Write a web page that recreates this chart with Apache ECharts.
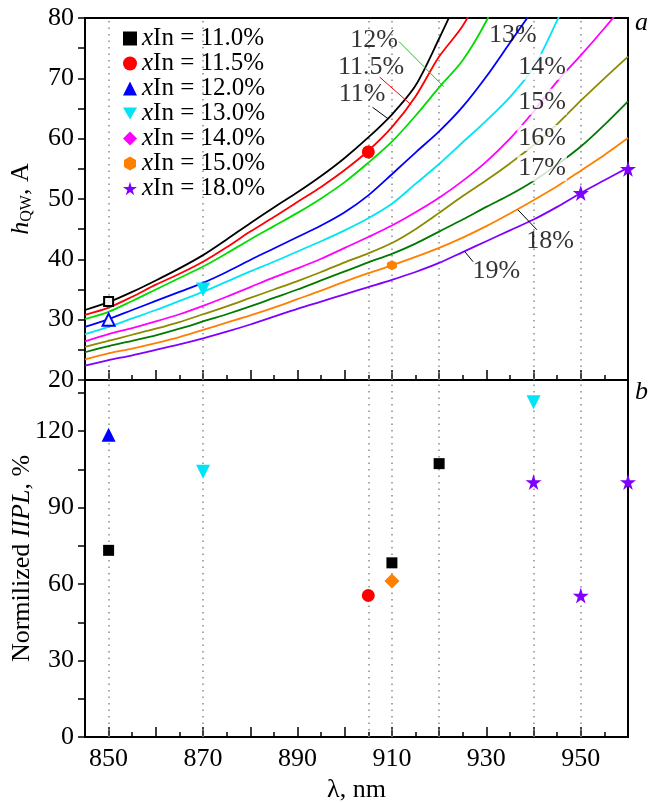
<!DOCTYPE html>
<html>
<head>
<meta charset="utf-8">
<script src="https://cdn.jsdelivr.net/npm/echarts@6/dist/echarts.min.js"></script>
<style>
html, body { margin: 0; padding: 0; background: #fff; }
#container { width: 653px; height: 803px; }
</style>
</head>
<body>
<div id="container"></div>
<script>
// wavelength grid of the computed curves, nm
let lambda = [845, 850, 855, 860, 865, 870, 875, 880, 885, 890, 895, 900,
              905, 910, 915, 920, 925, 930, 935, 940, 945, 950, 955, 960];

// h_QW (A) for each In content
let h11   = [31.6, 32.9, 34.6, 36.5, 38.5, 40.7, 43.3, 46.0, 48.6, 51.1, 53.8, 56.8, 60.2, 64.0, 68.8, 76.6, 85.0];
let h115  = [30.8, 32.0, 33.8, 35.8, 37.6, 39.6, 42.0, 44.6, 47.0, 49.5, 52.0, 54.8, 58.0, 61.9, 67.0, 73.6, 78.7, 86.0];
let h12   = [30.1, 31.3, 33.1, 35.0, 36.9, 38.8, 41.0, 43.3, 45.5, 47.7, 50.1, 52.8, 56.0, 59.5, 63.8, 68.5, 73.0, 79.5, 88.0];
let h13   = [28.8, 30.1, 31.6, 33.1, 34.6, 36.1, 37.9, 39.9, 41.8, 43.7, 45.6, 47.8, 50.6, 54.1, 57.7, 61.2, 65.3, 70.3, 75.9, 81.5];
let h14   = [27.6, 28.8, 30.2, 31.6, 33.1, 34.6, 36.3, 38.0, 39.6, 41.3, 43.0, 44.8, 46.8, 49.2, 52.5, 55.8, 59.4, 63.0, 66.9, 71.8, 79.6, 88.0];
let h15   = [26.4, 27.6, 28.6, 29.7, 30.9, 32.3, 33.8, 35.4, 37.0, 38.5, 40.1, 41.9, 43.7, 45.6, 47.8, 50.2, 53.0, 56.2, 60.0, 64.5, 69.5, 73.8, 78.3, 83.0];
let h16   = [25.5, 26.5, 27.5, 28.5, 29.6, 30.9, 32.2, 33.6, 35.0, 36.4, 37.9, 39.5, 41.0, 42.7, 45.0, 47.7, 50.5, 53.1, 55.9, 58.9, 62.4, 66.3, 70.0, 73.6];
let h17   = [24.6, 25.6, 26.5, 27.4, 28.5, 29.7, 30.9, 32.2, 33.6, 35.0, 36.5, 38.0, 39.5, 40.9, 42.6, 44.6, 46.6, 48.7, 50.7, 53.0, 55.7, 58.7, 62.3, 66.2];
let h18   = [23.4, 24.4, 25.2, 26.1, 27.1, 28.3, 29.5, 30.7, 32.0, 33.4, 34.8, 36.3, 37.7, 39.0, 40.4, 41.9, 43.6, 45.5, 47.6, 49.8, 52.1, 54.7, 57.3, 60.1];
let h19   = [22.4, 23.3, 24.1, 25.0, 25.9, 26.9, 28.0, 29.2, 30.5, 31.8, 33.0, 34.2, 35.4, 36.6, 37.9, 39.4, 41.2, 43.0, 44.8, 46.6, 48.7, 51.0, 53.1, 55.2];

let curveValues = [h11, h115, h12, h13, h14, h15, h16, h17, h18, h19];
let curveColors = ['#000000', '#ff0000', '#00dd00', '#0000ff', '#00e5f5', '#ff00ff', '#8b8b00', '#007a00', '#ff8000', '#7f00ff'];

// measured samples: [lambda, value]
let legendNames = ['xIn = 11.0%', 'xIn = 11.5%', 'xIn = 12.0%', 'xIn = 13.0%', 'xIn = 14.0%', 'xIn = 15.0%', 'xIn = 18.0%'];
let topPoints = [
    [[850, 33.0]],
    [[905, 57.8]],
    [[850, 30.0]],
    [[870, 35.0]],
    [],
    [[910, 39.0]],
    [[950, 51.0], [960, 55.0]]
];
let iiplPoints = [
    [[850, 73.2], [910, 68.3], [920, 107.2]],
    [[905, 55.5]],
    [[850, 118.5]],
    [[870, 104.0], [940, 131.3]],
    [],
    [[910, 61.2]],
    [[940, 100.0], [950, 55.5], [960, 100.0]]
];

// wavelengths of the dotted guide lines
let guideLambda = [850, 870, 905, 910, 920, 940, 950];

// curve tags [text, lambda, h]
let curveTags = [
    ['12%', 906.2, 76.4], ['11.5%', 905.6, 71.9], ['11%', 903.7, 67.3],
    ['13%', 935.6, 77.2], ['14%', 941.8, 71.9], ['15%', 941.8, 66.1],
    ['16%', 941.8, 60.1], ['17%', 941.8, 55.1], ['18%', 943.5, 43.0], ['19%', 932.1, 38.0]
];
// leader lines [color, from, to]
let leaders = [
    ['#00dd00', [911.5, 76.1], [921.0, 68.6]],
    ['#ff0000', [907.4, 70.2], [914.1, 65.6]],
    ['#000000', [905.9, 65.2], [909.2, 63.3]],
    ['#000000', [936.7, 48.2], [940.7, 44.9]],
    ['#000000', [925.4, 41.3], [927.2, 39.6]]
];

// ticks and labels
let xMinorTicks = [];
for (let v = 845; v <= 960; v += 5) xMinorTicks.push(v);
let xMajorTicks = [850, 860, 870, 880, 890, 900, 910, 920, 930, 940, 950, 960];
let xLabels = [850, 870, 890, 910, 930, 950];
let hTicks = [20, 25, 30, 35, 40, 45, 50, 55, 60, 65, 70, 75, 80];
let hLabels = [20, 30, 40, 50, 60, 70, 80];
let iTicks = [0, 15, 30, 45, 60, 75, 90, 105, 120, 135];
let iLabels = [0, 30, 60, 90, 120];

const serif = 'Liberation Serif';
const starPath = 'path://M50,0 L61,35 L98,35 L68,57 L79,91 L50,70 L21,91 L32,57 L2,35 L39,35 Z';
const downTri = 'path://M0,0 L100,0 L50,87 Z';
const hexPath = 'path://M50,0 L93,25 L93,75 L50,100 L7,75 L7,25 Z';
let markerColors = ['#000000', '#ff0000', '#0000ff', '#00e5f5', '#ff00ff', '#ff8000', '#7f00ff'];
let markerSymbols = ['rect', 'circle', 'triangle', downTri, 'diamond', hexPath, starPath];
let markerSizes = [11, 13, 14, 14, 14, 11, 16];

function xAxes(grid, labels) {
    let base = {
        gridIndex: grid, type: 'value', min: 845, max: 960, position: 'bottom',
        splitLine: {show: false}
    };
    let a = Object.assign({}, base, {
        axisLine: {lineStyle: {color: '#000', width: 2}},
        axisTick: {inside: true, length: 5, customValues: xMinorTicks, lineStyle: {color: '#000', width: 1.5}},
        axisLabel: labels ? {customValues: xLabels, fontFamily: serif, fontSize: 26, color: '#000', margin: 9} : {show: false}
    });
    if (labels) {
        a.name = 'λ, nm';
        a.nameLocation = 'middle';
        a.nameGap = 40;
        a.nameMoveOverlap = false;
        a.nameTextStyle = {fontFamily: serif, fontSize: 26, color: '#000'};
    }
    let b = Object.assign({}, base, {
        axisLine: {show: false},
        axisTick: {inside: true, length: 10, customValues: xMajorTicks, lineStyle: {color: '#000', width: 1.5}},
        axisLabel: {show: false}
    });
    return [a, b];
}

let series = [];
curveValues.forEach((vals, i) => {
    let s = {
        type: 'line', xAxisIndex: 0, yAxisIndex: 0,
        data: vals.map((v, k) => [lambda[k], v]),
        showSymbol: false, smooth: 0.3, z: 3, silent: true,
        lineStyle: {color: curveColors[i], width: 1.8}
    };
    if (i === 0) {
        s.markLine = {
            silent: true, symbol: 'none', label: {show: false}, z: 1,
            lineStyle: {color: '#8c8c8c', type: [1.5, 5], width: 1.5},
            data: guideLambda.map(v => ({xAxis: v}))
        };
    }
    series.push(s);
});

// guide lines in panel b
series.push({
    type: 'line', xAxisIndex: 2, yAxisIndex: 1, data: [], silent: true,
    markLine: {
        silent: true, symbol: 'none', label: {show: false},
        lineStyle: {color: '#8c8c8c', type: [1.5, 5], width: 1.5},
        data: guideLambda.map(v => ({xAxis: v}))
    }
});

leaders.forEach(l => {
    series.push({
        type: 'line', xAxisIndex: 0, yAxisIndex: 0, data: [l[1], l[2]],
        showSymbol: false, silent: true, z: 4,
        lineStyle: {color: l[0], width: 1}
    });
});

series.push({
    type: 'scatter', xAxisIndex: 0, yAxisIndex: 0, symbolSize: 0, silent: true, z: 6,
    data: curveTags.map((t, k) => ({
        value: [t[1], t[2]], name: t[0],
        label: (k >= 4 && k <= 7) ? {backgroundColor: '#fff', padding: [0, 1]} : {}
    })),
    label: {
        show: true, position: 'inside', formatter: '{b}',
        fontFamily: serif, fontSize: 26, color: '#000'
    }
});

legendNames.forEach((name, i) => {
    let hollow = (i === 0 || i === 2);
    series.push({
        name: name, type: 'scatter', xAxisIndex: 0, yAxisIndex: 0, z: 7,
        data: topPoints[i], symbol: markerSymbols[i],
        symbolSize: i === 5 ? 10 : markerSizes[i] - (hollow ? 2 : 0), clip: false,
        itemStyle: hollow
            ? {color: '#f4f4f4', borderColor: markerColors[i], borderWidth: 2, opacity: 1}
            : {color: markerColors[i], opacity: 1}
    });
});

legendNames.forEach((name, i) => {
    series.push({
        name: name, type: 'scatter', xAxisIndex: 2, yAxisIndex: 1, z: 7,
        data: iiplPoints[i].map(p => (i === 5 ? {value: p, symbol: 'diamond', symbolSize: 15} : p)),
        symbol: markerSymbols[i], symbolSize: markerSizes[i], clip: false,
        itemStyle: {color: markerColors[i], opacity: 1}
    });
});

let chart = echarts.init(document.getElementById('container'));
chart.setOption({
    backgroundColor: '#fff',
    animation: false,
    grid: [
        {left: 85, right: 25, top: 18, height: 362, outerBoundsMode: 'none', show: true, borderColor: '#000', borderWidth: 2},
        {left: 85, right: 25, top: 380, bottom: 66, outerBoundsMode: 'none', show: true, borderColor: '#000', borderWidth: 2}
    ],
    xAxis: xAxes(0, false).concat(xAxes(1, true)),
    yAxis: [{
        gridIndex: 0, type: 'value', min: 20, max: 80,
        axisLine: {show: true, lineStyle: {color: '#000', width: 2}},
        axisTick: {show: true, length: 7, customValues: hTicks, lineStyle: {color: '#000', width: 1.5}},
        axisLabel: {customValues: hLabels, fontFamily: serif, fontSize: 26, color: '#000', margin: 11},
        splitLine: {show: false},
        name: '{i|h}{s|QW}{n|, A}', nameLocation: 'middle', nameGap: 50, nameMoveOverlap: false,
        nameTextStyle: {
            fontFamily: serif, fontSize: 26, color: '#000',
            rich: {
                i: {fontFamily: serif, fontSize: 26, fontStyle: 'italic', color: '#000'},
                s: {fontFamily: serif, fontSize: 16, color: '#000', verticalAlign: 'bottom', padding: [12, 0, 0, 0]},
                n: {fontFamily: serif, fontSize: 26, color: '#000'}
            }
        }
    }, {
        gridIndex: 1, type: 'value', min: 0, max: 140,
        axisLine: {show: true, lineStyle: {color: '#000', width: 2}},
        axisTick: {show: true, length: 7, customValues: iTicks, lineStyle: {color: '#000', width: 1.5}},
        axisLabel: {customValues: iLabels, fontFamily: serif, fontSize: 26, color: '#000', margin: 11},
        splitLine: {show: false},
        name: '{n|Normilized }{i|IIPL}{n|, %}', nameLocation: 'middle', nameGap: 50, nameMoveOverlap: false,
        nameTextStyle: {
            fontFamily: serif, fontSize: 26, color: '#000',
            rich: {
                i: {fontFamily: serif, fontSize: 26, fontStyle: 'italic', color: '#000'},
                n: {fontFamily: serif, fontSize: 26, color: '#000'}
            }
        }
    }],
    legend: {
        orient: 'vertical', left: 118, top: 21, itemGap: 0, itemWidth: 14, itemHeight: 14,
        selectedMode: false,
        data: legendNames.map((n, i) => ({name: n, icon: markerSymbols[i], itemStyle: {color: markerColors[i], borderWidth: 0, opacity: 1}})),
        formatter: name => '{i|x}' + name.slice(1),
        textStyle: {
            fontFamily: serif, fontSize: 25, color: '#000', lineHeight: 25,
            rich: {i: {fontFamily: serif, fontSize: 25, fontStyle: 'italic', color: '#000', lineHeight: 25}}
        }
    },
    graphic: [
        {type: 'text', left: 635, top: 10, style: {text: 'a', font: 'italic 26px "Liberation Serif"', fill: '#000'}},
        {type: 'text', left: 635, top: 379, style: {text: 'b', font: 'italic 26px "Liberation Serif"', fill: '#000'}}
    ],
    series: series
});
</script>
</body>
</html>
